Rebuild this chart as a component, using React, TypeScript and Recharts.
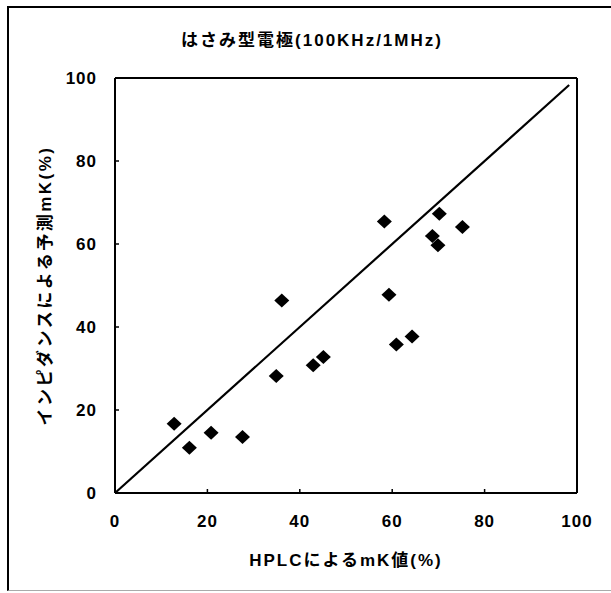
import React from "react"
import {
  ScatterChart,
  Scatter,
  XAxis,
  YAxis,
  ReferenceLine,
  Label,
} from "recharts"

// HPLC mK value (%) vs. mK predicted from impedance (%)
const hplcValues = [12.8, 16.1, 20.8, 27.6, 34.9, 36.1, 42.9, 45.1, 58.3, 59.3, 60.9, 64.3, 68.7, 69.9, 70.2, 75.2]
const predictedValues = [16.7, 10.9, 14.5, 13.5, 28.2, 46.4, 30.8, 32.8, 65.4, 47.8, 35.8, 37.7, 61.9, 59.7, 67.3, 64.1]

// y = x reference
const identityStart = 0
const identityEnd = 98.3

const axisTicks = [0, 20, 40, 60, 80, 100]
const axisMax = 100

const title = "はさみ型電極(100KHz/1MHz)"
const xTitle = "HPLCによるmK値(%)"
const yTitle = "インピダンスによる予測mK(%)"

const points = hplcValues.map((x, i) => ({ x, y: predictedValues[i] }))

const font = "'Liberation Sans', Arial, 'Noto Sans CJK JP', sans-serif"

const Diamond = (props: any) => {
  const { cx, cy } = props
  if (cx == null || cy == null) return null
  const w = 7.5
  const h = 7
  return (
    <polygon
      points={`${cx},${cy - h} ${cx + w},${cy} ${cx},${cy + h} ${cx - w},${cy}`}
      fill="#000"
    />
  )
}

export default function App() {
  return (
    <div
      style={{
        position: "absolute",
        left: 0,
        top: 0,
        width: 611,
        height: 593,
        background: "#fff",
        fontFamily: font,
      }}
    >
      <div
        style={{
          position: "absolute",
          left: 7,
          top: 6,
          width: 604,
          height: 582,
          borderTop: "2px solid #000",
          borderLeft: "2px solid #000",
          borderBottom: "1px solid #aaa",
        }}
      />
      <div
        style={{
          position: "absolute",
          left: 0,
          width: 624,
          top: 26,
          textAlign: "center",
          fontSize: 17,
          fontWeight: "bold",
          letterSpacing: 2,
          color: "#000",
        }}
      >
        {title}
      </div>
      <div style={{ position: "absolute", left: 0, top: 0 }}>
        <ScatterChart
          width={611}
          height={593}
          margin={{ top: 78, right: 34, bottom: 0, left: 0 }}
        >
          <XAxis
            type="number"
            dataKey="x"
            domain={[0, axisMax]}
            ticks={axisTicks}
            interval={0}
            height={100}
            tickSize={-4}
            tickMargin={26}
            axisLine={{ stroke: "#000", strokeWidth: 2 }}
            tickLine={{ stroke: "#000", strokeWidth: 1.5 }}
            tick={{ fill: "#000", fontSize: 17, fontWeight: "bold", fontFamily: font, letterSpacing: 1 }}
          >
            <Label
              value={xTitle}
              position="insideBottom"
              offset={27}
              style={{ fill: "#000", fontSize: 17, fontWeight: "bold", fontFamily: font, letterSpacing: 2 }}
            />
          </XAxis>
          <YAxis
            type="number"
            dataKey="y"
            domain={[0, axisMax]}
            ticks={axisTicks}
            interval={0}
            width={115}
            tickSize={-4}
            tickMargin={22}
            axisLine={{ stroke: "#000", strokeWidth: 2 }}
            tickLine={{ stroke: "#000", strokeWidth: 1.5 }}
            tick={{ fill: "#000", fontSize: 17, fontWeight: "bold", fontFamily: font, letterSpacing: 1 }}
          >
            <Label
              content={({ viewBox }: any) => {
                const cx = viewBox.x + 45
                const cy = viewBox.y + viewBox.height / 2
                return (
                  <text
                    x={cx}
                    y={cy}
                    transform={`rotate(-90 ${cx} ${cy})`}
                    textAnchor="middle"
                    dominantBaseline="central"
                    fill="#000"
                    fontSize={17}
                    fontWeight="bold"
                    fontFamily={font}
                    letterSpacing={2.5}
                  >
                    {yTitle}
                  </text>
                )
              }}
            />
          </YAxis>
          {/* plot frame: top and right edges */}
          <ReferenceLine y={axisMax} stroke="#000" strokeWidth={2} />
          <ReferenceLine x={axisMax} stroke="#000" strokeWidth={2} />
          <ReferenceLine
            segment={[
              { x: identityStart, y: identityStart },
              { x: identityEnd, y: identityEnd },
            ]}
            stroke="#000"
            strokeWidth={2.2}
          />
          <Scatter data={points} shape={Diamond} isAnimationActive={false} />
        </ScatterChart>
      </div>
    </div>
  )
}
